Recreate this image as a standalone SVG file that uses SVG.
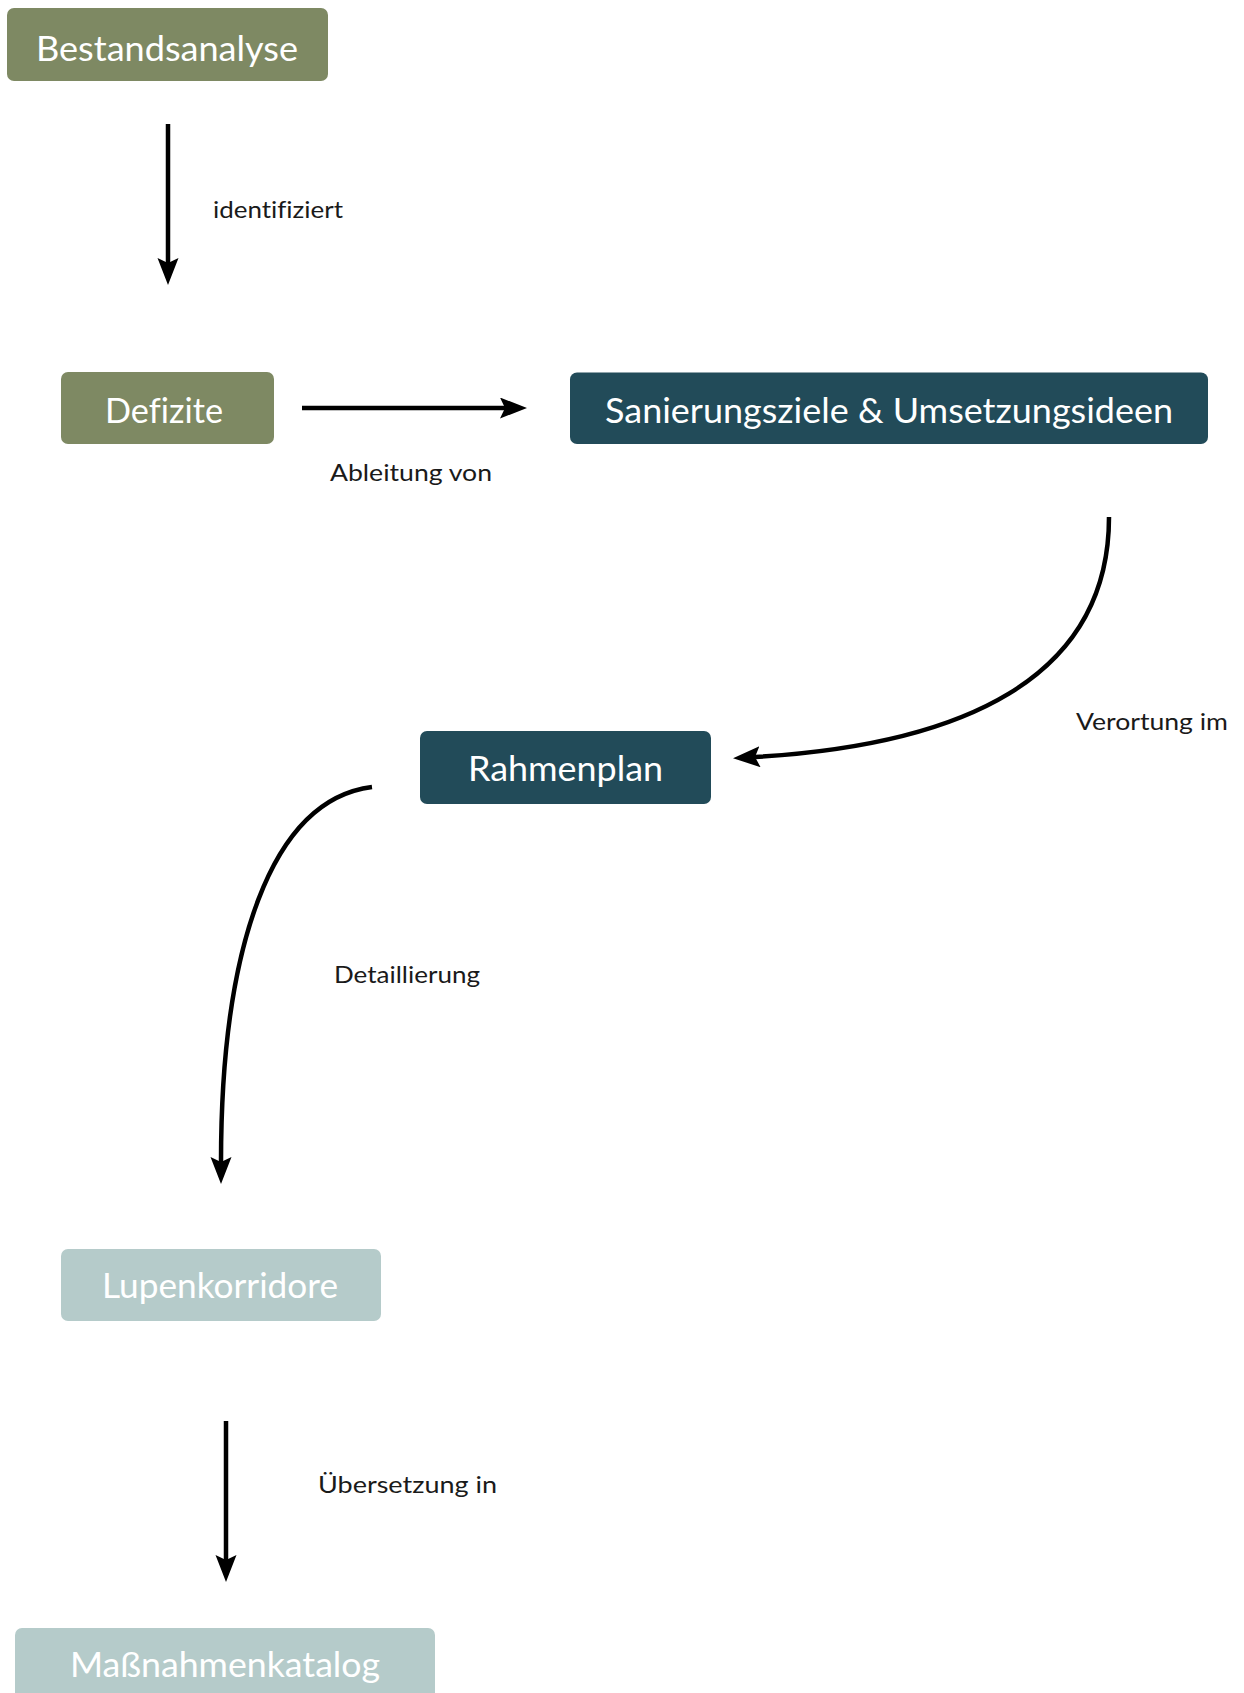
<svg xmlns="http://www.w3.org/2000/svg" width="1244" height="1693" viewBox="0 0 1244 1693">
<style>
.green{fill:#7e8963}
.teal{fill:#224b59}
.light{fill:#b5cbca}
.nt{font-family:Lato,"Open Sans","Liberation Sans",sans-serif;font-size:34px;fill:#ffffff;text-anchor:middle;font-variant-ligatures:none}
.lt{font-family:Lato,"Open Sans","Liberation Sans",sans-serif;font-size:23px;fill:#1a1a1a;font-variant-ligatures:none}
.edge{fill:none;stroke:#000;stroke-width:4.5}
</style>
<defs>
<marker id="ah" markerUnits="userSpaceOnUse" markerWidth="30" markerHeight="22" refX="5" refY="10.5" orient="auto" viewBox="0 0 30 22">
<path d="M0,0 L27,10.5 L0,21 L5,10.5 z" fill="#000"/>
</marker>
</defs>
<rect width="1244" height="1693" fill="#ffffff"/>
<g id="connectors">
<path class="edge" d="M168,124 L168,263" marker-end="url(#ah)"/>
<path class="edge" d="M302,408 L505,408" marker-end="url(#ah)"/>
<path class="edge" d="M1109,517 C1109,680 960,745 755,757" marker-end="url(#ah)"/>
<path class="edge" d="M372,787 C270,800 221,950 221,1162" marker-end="url(#ah)"/>
<path class="edge" d="M226,1421 L226,1560" marker-end="url(#ah)"/>
<text class="lt" x="213" y="218" textLength="130" lengthAdjust="spacingAndGlyphs">identifiziert</text>
<text class="lt" x="330" y="481" textLength="162" lengthAdjust="spacingAndGlyphs">Ableitung von</text>
<text class="lt" x="1076" y="730" textLength="152" lengthAdjust="spacingAndGlyphs">Verortung im</text>
<text class="lt" x="334" y="983" textLength="146" lengthAdjust="spacingAndGlyphs">Detaillierung</text>
<text class="lt" x="318" y="1493" textLength="179" lengthAdjust="spacingAndGlyphs">Übersetzung in</text>
</g>
<g id="node-bestandsanalyse">
<rect class="green" x="7" y="8" width="321" height="73" rx="7"/>
<text class="nt" x="167" y="61" textLength="262" lengthAdjust="spacingAndGlyphs">Bestandsanalyse</text>
</g>
<g id="node-defizite">
<rect class="green" x="61" y="372" width="213" height="72" rx="7"/>
<text class="nt" x="164" y="423" textLength="118" lengthAdjust="spacingAndGlyphs">Defizite</text>
</g>
<g id="node-sanierungsziele">
<rect class="teal" x="570" y="372.5" width="638" height="71.5" rx="7"/>
<text class="nt" x="889" y="423" textLength="568" lengthAdjust="spacingAndGlyphs">Sanierungsziele &amp; Umsetzungsideen</text>
</g>
<g id="node-rahmenplan">
<rect class="teal" x="420" y="731" width="291" height="73" rx="7"/>
<text class="nt" x="565.5" y="781" textLength="195" lengthAdjust="spacingAndGlyphs">Rahmenplan</text>
</g>
<g id="node-lupenkorridore">
<rect class="light" x="61" y="1249" width="320" height="72" rx="7"/>
<text class="nt" x="220" y="1298" textLength="236" lengthAdjust="spacingAndGlyphs">Lupenkorridore</text>
</g>
<g id="node-massnahmenkatalog">
<rect class="light" x="15" y="1628" width="420" height="80" rx="7"/>
<text class="nt" x="225" y="1677" textLength="310" lengthAdjust="spacingAndGlyphs">Maßnahmenkatalog</text>
</g>
</svg>
